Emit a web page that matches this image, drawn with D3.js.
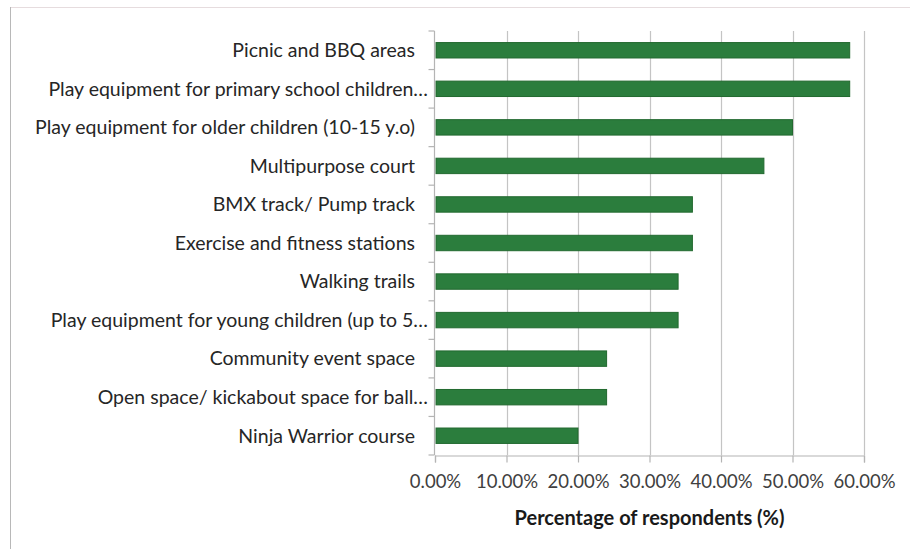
<!DOCTYPE html>
<html>
<head>
<meta charset="utf-8">
<script src="https://cdn.jsdelivr.net/npm/d3@7"></script>
<style>
  html, body { margin: 0; padding: 0; background: #fff; }
  svg { display: block; }
</style>
</head>
<body>
<svg id="chart" width="910" height="549"></svg>
<script>
// Survey: preferred park features
const categories = [
  "Picnic and BBQ areas",
  "Play equipment for primary school children…",
  "Play equipment for older children (10-15 y.o)",
  "Multipurpose court",
  "BMX track/ Pump track",
  "Exercise and fitness stations",
  "Walking trails",
  "Play equipment for young children (up to 5…",
  "Community event space",
  "Open space/ kickabout space for ball…",
  "Ninja Warrior course"
];
const values = [58, 58, 50, 46, 36, 36, 34, 34, 24, 24, 20];
const tickValues = [0, 10, 20, 30, 40, 50, 60];
const axisTitle = "Percentage of respondents (%)";

const svg = d3.select("#chart");
const font = "Lato, 'Open Sans', sans-serif";

// Outer frame edges
svg.append("line").attr("x1", 10).attr("x2", 910).attr("y1", 7.5).attr("y2", 7.5)
  .attr("stroke", "#e6dcde").attr("stroke-width", 1);
svg.append("line").attr("x1", 10.5).attr("x2", 10.5).attr("y1", 7).attr("y2", 549)
  .attr("stroke", "#b8b8b8").attr("stroke-width", 1);

const plot = { left: 435, right: 864, top: 31, bottom: 455 };

const x = d3.scaleLinear().domain([0, 60]).range([plot.left, plot.right]);
const y = d3.scaleBand().domain(categories).range([plot.top, plot.bottom]).paddingInner(0.6).paddingOuter(0.3);
const yBand = d3.scaleBand().domain(categories).range([plot.top, plot.bottom]);

// Vertical gridlines
svg.append("g").selectAll("line").data(tickValues.slice(1)).join("line")
  .attr("x1", d => Math.round(x(d)) + 0.5).attr("x2", d => Math.round(x(d)) + 0.5)
  .attr("y1", plot.top).attr("y2", plot.bottom)
  .attr("stroke", "#c4c4c4").attr("stroke-width", 1.2);

// Bars
svg.append("g").selectAll("rect").data(values).join("rect")
  .attr("x", x(0) + 1)
  .attr("y", (d, i) => y(categories[i]))
  .attr("width", d => x(d) - x(0) - 1)
  .attr("height", y.bandwidth())
  .attr("fill", "#2b7d3d")
  .attr("stroke", "#22692f")
  .attr("stroke-width", 1);

// Bottom axis
const xAxis = d3.axisBottom(x).tickValues(tickValues).tickSize(7).tickPadding(12)
  .tickFormat(d => d3.format(".2f")(d) + "%");
const gx = svg.append("g").attr("transform", `translate(0,${plot.bottom + 0.5})`).call(xAxis);
gx.select(".domain").attr("stroke", "#b4b4b4").attr("stroke-width", 1.2);
gx.selectAll(".tick line").attr("stroke", "#b4b4b4").attr("stroke-width", 1.2);
gx.selectAll(".tick text").attr("font-family", font).attr("font-size", 18.5).attr("fill", "#404040");

// Left axis with boundary ticks
const gy = svg.append("g").attr("transform", `translate(${plot.left - 0.5},0)`);
gy.append("line").attr("x1", 0).attr("x2", 0).attr("y1", plot.top).attr("y2", plot.bottom)
  .attr("stroke", "#b4b4b4").attr("stroke-width", 1.2);
const bounds = categories.map(c => yBand(c)).concat([plot.bottom]);
gy.selectAll("line.tk").data(bounds).join("line").attr("class", "tk")
  .attr("x1", -6).attr("x2", 0).attr("y1", d => d).attr("y2", d => d)
  .attr("stroke", "#b4b4b4").attr("stroke-width", 1.2);

// Category labels
svg.append("g").selectAll("text").data(categories).join("text")
  .attr("x", d => d.endsWith("…") ? 428 : 415)
  .attr("y", d => yBand(d) + yBand.bandwidth() / 2)
  .attr("dy", "0.35em")
  .attr("text-anchor", "end")
  .attr("font-family", font).attr("font-size", 19.5).attr("fill", "#262626")
  .text(d => d);

// Axis title
svg.append("text")
  .attr("x", (plot.left + plot.right) / 2).attr("y", 518).attr("dy", "0.35em")
  .attr("text-anchor", "middle")
  .attr("font-family", font).attr("font-size", 20).attr("font-weight", "bold").attr("fill", "#1a1a1a")
  .text(axisTitle);
</script>
</body>
</html>
